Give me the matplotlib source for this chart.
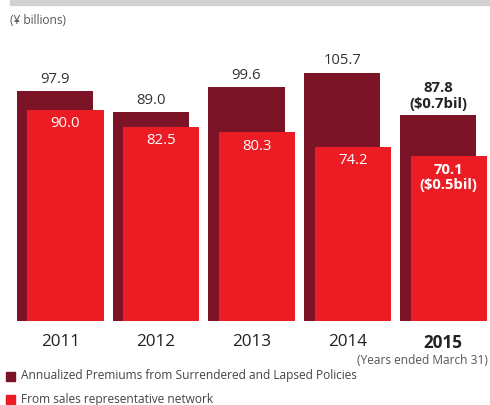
import matplotlib
matplotlib.use("Agg")
import matplotlib.pyplot as plt
from matplotlib.patches import Rectangle

plt.rcParams['font.family'] = ['Open Sans', 'DejaVu Sans']

years = ["2011", "2012", "2013", "2014", "2015"]
surrendered = [97.9, 89.0, 99.6, 105.7, 87.8]
sales_network = [90.0, 82.5, 80.3, 74.2, 70.1]
usd_notes_surrendered = ["", "", "", "", "($0.7bil)"]
usd_notes_sales = ["", "", "", "", "($0.5bil)"]
legend_labels = ["Annualized Premiums from Surrendered and Lapsed Policies",
                 "From sales representative network"]

DARK = "#7b1426"
RED = "#ec1c24"
TEXT = "#333333"

W, H = 490, 405
fig = plt.figure(figsize=(W / 100, H / 100), dpi=100)

# light gray rule across the top
fig.patches.append(Rectangle((10 / W, 1 - 5 / H), 1, 5 / H, transform=fig.transFigure,
                             color="#d2d2d2", zorder=0))
fig.text(10 / W, 1 - 20 / H, "(¥ billions)", fontsize=8.6, color="#555555", va="center")

base = (H - 321) / H
ax = fig.add_axes([0, base, 1, 1 - base])
ax.set_xlim(-0.574, 4.543)
ax.set_ylim(0, 321 / 2.35)
ax.axis("off")

width = 0.794
offset = 0.11
x = list(range(len(years)))

ax.bar(x, surrendered, width=width, color=DARK, align="center", zorder=1)
ax.bar([i + offset for i in x], sales_network, width=width, color=RED, align="center", zorder=2)

for i in x:
    last = i == len(years) - 1
    weight = "bold" if last else "normal"
    top_txt = f"{surrendered[i]:.1f}"
    if usd_notes_surrendered[i]:
        top_txt += "\n" + usd_notes_surrendered[i]
    ax.annotate(top_txt, (i, surrendered[i]), xytext=(0, 3), textcoords="offset points",
                ha="center", va="bottom", fontsize=10.7, color=TEXT if not last else "#222222",
                fontweight=weight, linespacing=1.1)
    in_txt = f"{sales_network[i]:.1f}"
    if usd_notes_sales[i]:
        in_txt += "\n" + usd_notes_sales[i]
    ax.annotate(in_txt, (i + offset, sales_network[i]), xytext=(0, -4.5), textcoords="offset points",
                ha="center", va="top", fontsize=10.7, color="white", fontweight=weight,
                linespacing=1.1)
    ax.annotate(years[i], (i + offset / 2, 0), xytext=(0, -9), textcoords="offset points",
                ha="center", va="top", fontsize=12.3, color="#222222", fontweight=weight,
                annotation_clip=False)

fig.text(488 / W, 1 - 360 / H, "(Years ended March 31)", fontsize=8.6, color="#555555",
         ha="right", va="center")

for k, (label, col) in enumerate(zip(legend_labels, [DARK, RED])):
    yc = 376 + 23 * k
    fig.patches.append(Rectangle((6 / W, 1 - (yc + 4.5) / H), 9 / W, 9 / H,
                                 transform=fig.transFigure, color=col))
    fig.text(21 / W, 1 - yc / H, label, fontsize=8.6, color="#444444", va="center")

fig.savefig("out.png", dpi=100)
